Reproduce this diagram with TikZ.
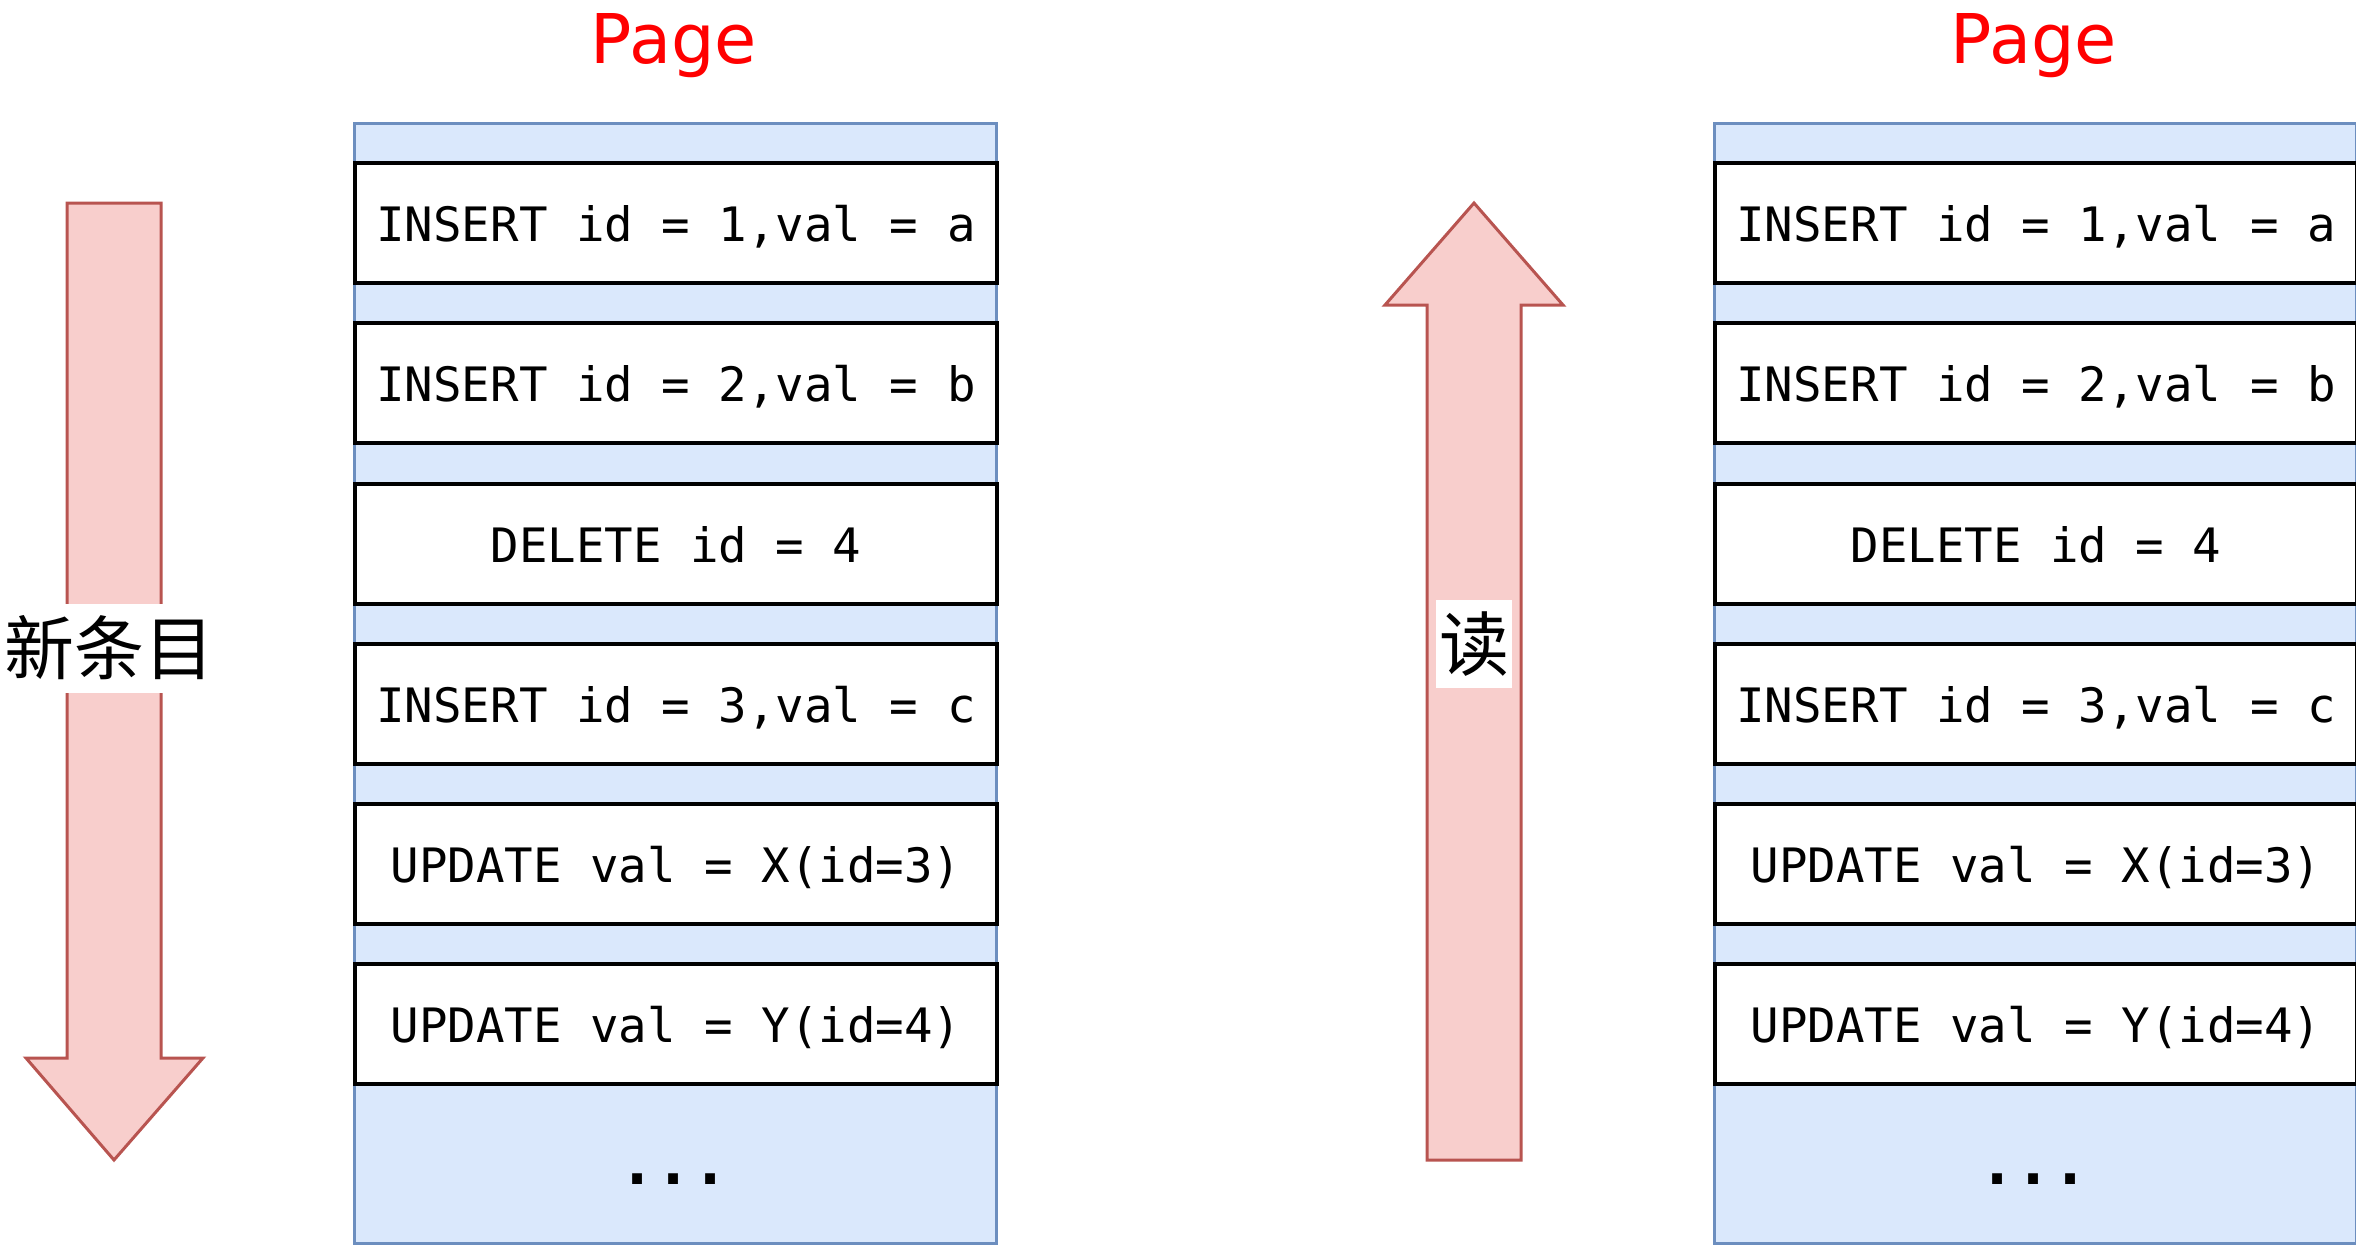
\documentclass[tikz,border=0pt]{standalone}
\usepackage{fontspec}
\newfontfamily\monofont{DejaVu Sans Mono}
\newfontfamily\titlefont{DejaVu Sans}
\newfontfamily\cjk{Noto Sans CJK SC}
\definecolor{pagefill}{HTML}{DAE8FC}
\definecolor{pagedraw}{HTML}{6C8EBF}
\definecolor{arrfill}{HTML}{F8CECC}
\definecolor{arrdraw}{HTML}{B85450}
\begin{document}
\begin{tikzpicture}[x=0.5pt,y=-0.5pt,
  pagebox/.style={draw=pagedraw,fill=pagefill,line width=1.5pt,rectangle,inner sep=0pt,
    minimum width=321pt,minimum height=560pt,anchor=north west},
  recbox/.style={draw=black,fill=white,line width=2pt,rectangle,inner sep=0pt,
    minimum width=321pt,minimum height=60pt,anchor=north west,
    font=\monofont\fontsize{23.7}{28}\selectfont,text height=18pt,text depth=0pt},
  titletext/.style={text=red,font=\titlefont\fontsize{34.3}{40}\selectfont,anchor=base,inner sep=0pt},
  dotstext/.style={font=\monofont\bfseries\fontsize{30}{34}\selectfont,anchor=base,inner sep=0pt},
  bigarrow/.style={draw=arrdraw,fill=arrfill,line width=1.5pt,line join=miter},
  cjklabel/.style={fill=white,inner sep=0pt,font=\cjk\fontsize{35}{40}\selectfont}
]
\useasboundingbox (0,0) rectangle (2356,1244);

% left page
\node[pagebox] (lp) at (353,122) {};
\node[titletext] (lt) at (674,63) {Page};
\node[recbox] (l1) at (353,161) {INSERT id = 1,val = a};
\node[recbox] (l2) at (353,321) {INSERT id = 2,val = b};
\node[recbox] (l3) at (353,482) {DELETE id = 4};
\node[recbox] (l4) at (353,642) {INSERT id = 3,val = c};
\node[recbox] (l5) at (353,802) {UPDATE val = X(id=3)};
\node[recbox] (l6) at (353,962) {UPDATE val = Y(id=4)};
\node[dotstext] (ld) at (674,1184) {...};

% right page
\node[pagebox] (rp) at (1713,122) {};
\node[titletext] (rt) at (2034,63) {Page};
\node[recbox] (r1) at (1713,161) {INSERT id = 1,val = a};
\node[recbox] (r2) at (1713,321) {INSERT id = 2,val = b};
\node[recbox] (r3) at (1713,482) {DELETE id = 4};
\node[recbox] (r4) at (1713,642) {INSERT id = 3,val = c};
\node[recbox] (r5) at (1713,802) {UPDATE val = X(id=3)};
\node[recbox] (r6) at (1713,962) {UPDATE val = Y(id=4)};
\node[dotstext] (rd) at (2034,1184) {...};

% down arrow (new entries)
\draw[bigarrow] (67,203) -- (161,203) -- (161,1058) -- (203,1058) -- (114,1160)
  -- (26,1058) -- (67,1058) -- cycle;
\node[cjklabel,minimum width=109pt,minimum height=44.5pt] (newlab) at (109,648) {新条目};

% up arrow (read)
\draw[bigarrow] (1427,1160) -- (1521,1160) -- (1521,305) -- (1563,305) -- (1474,203)
  -- (1385,305) -- (1427,305) -- cycle;
\node[cjklabel,minimum width=38pt,minimum height=44pt] (readlab) at (1474,644) {读};
\end{tikzpicture}
\end{document}
